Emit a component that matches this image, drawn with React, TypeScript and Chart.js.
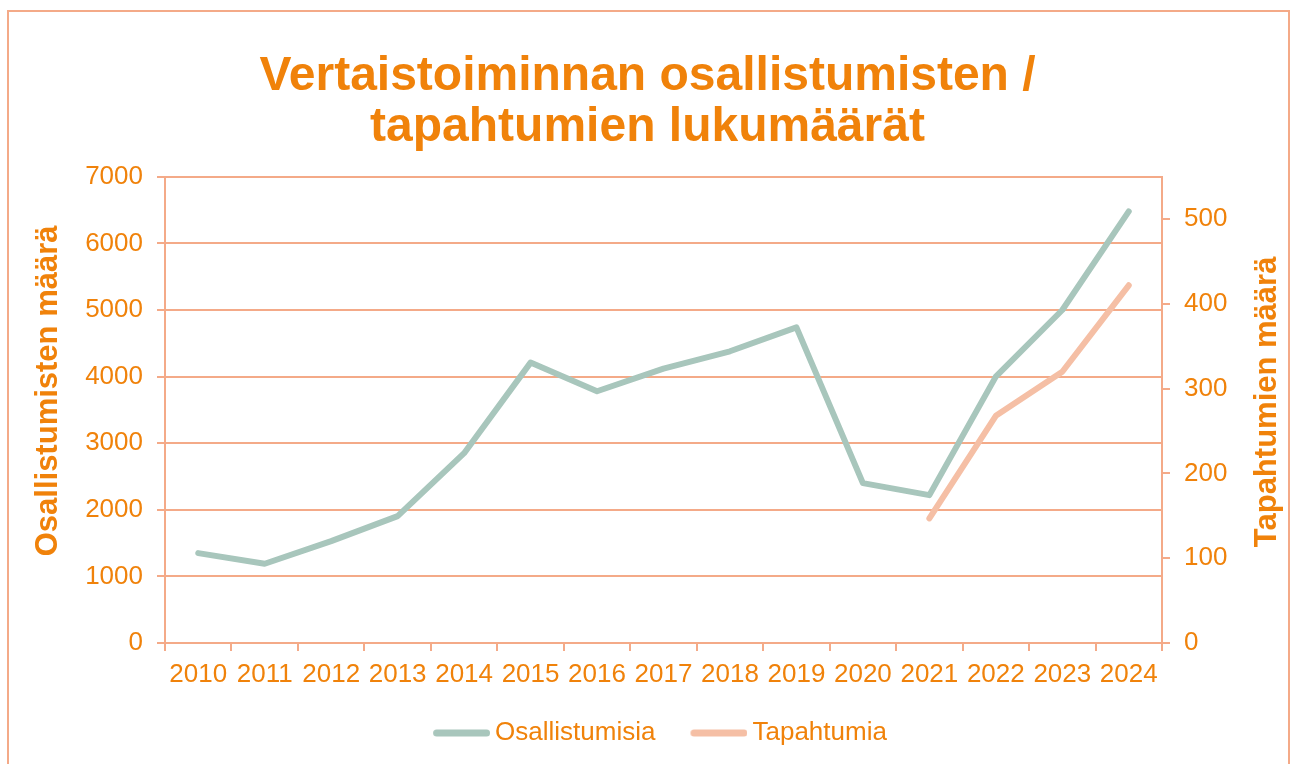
import React, { useEffect, useRef } from "react";
import { Chart, registerables } from "chart.js";

Chart.register(...registerables);

const years = ["2010", "2011", "2012", "2013", "2014", "2015", "2016", "2017", "2018", "2019", "2020", "2021", "2022", "2023", "2024"];
const participations = [1350, 1190, 1530, 1905, 2850, 4210, 3780, 4120, 4380, 4740, 2400, 2220, 4000, 5000, 6480];
const events = [null, null, null, null, null, null, null, null, null, null, null, 147, 268, 320, 422];
const titleLines = ["Vertaistoiminnan osallistumisten /", "tapahtumien lukumäärät"];
const leftAxisTitle = "Osallistumisten määrä";
const rightAxisTitle = "Tapahtumien määrä";

const ORANGE = "#F0820A";
const SALMON = "#F4AA88";
const GREEN = "#A8C6BC";
const PINK = "#F5BFA5";
const FONT = "'Liberation Sans', Arial, sans-serif";

function legendLine(color: string) {
  const c = document.createElement("canvas");
  c.width = 90;
  c.height = 10;
  const g = c.getContext("2d")!;
  g.strokeStyle = color;
  g.lineWidth = 7;
  g.lineCap = "round";
  g.beginPath();
  g.moveTo(33 + 3.5, 5);
  g.lineTo(90 - 3.5, 5);
  g.stroke();
  return c;
}

const axisTitles = {
  id: "axisTitles",
  afterDraw(chart: any) {
    const { ctx, chartArea } = chart;
    const mid = (chartArea.top + chartArea.bottom) / 2;
    ctx.save();
    ctx.fillStyle = ORANGE;
    ctx.font = `bold 31px ${FONT}`;
    ctx.textAlign = "center";
    ctx.textBaseline = "alphabetic";
    ctx.save();
    ctx.translate(chartArea.left - 108, mid - 19);
    ctx.rotate(-Math.PI / 2);
    ctx.fillText(leftAxisTitle, 0, 0);
    ctx.restore();
    ctx.save();
    ctx.translate(chartArea.right + 114, mid - 8);
    ctx.rotate(-Math.PI / 2);
    ctx.fillText(rightAxisTitle, 0, 0);
    ctx.restore();
    ctx.restore();
  },
};

export default function App() {
  const ref = useRef<HTMLCanvasElement>(null);
  useEffect(() => {
    const chart = new Chart(ref.current!, {
      type: "line",
      data: {
        labels: years,
        datasets: [
          {
            label: "Osallistumisia",
            data: participations,
            borderColor: GREEN,
            backgroundColor: GREEN,
            borderWidth: 6,
            borderCapStyle: "round",
            borderJoinStyle: "round",
            pointRadius: 0,
            pointStyle: legendLine(GREEN) as any,
            yAxisID: "y",
          },
          {
            label: "Tapahtumia",
            data: events,
            borderColor: PINK,
            backgroundColor: PINK,
            borderWidth: 6,
            borderCapStyle: "round",
            borderJoinStyle: "round",
            pointRadius: 0,
            pointStyle: legendLine(PINK) as any,
            yAxisID: "y1",
          },
        ],
      },
      options: {
        animation: false,
        responsive: false,
        layout: { padding: { left: 0, right: 0, top: 52, bottom: 8 } },
        plugins: {
          tooltip: { enabled: false },
          title: {
            display: true,
            text: titleLines,
            color: ORANGE,
            font: { family: FONT, size: 48, weight: "bold", lineHeight: 1.05 },
            padding: { top: 0, bottom: 24 },
          },
          legend: {
            position: "bottom",
            labels: {
              color: ORANGE,
              font: { family: FONT, size: 26 },
              usePointStyle: true,
              pointStyleWidth: 74,
              padding: 10,
            },
          },
        },
        scales: {
          x: {
            offset: true,
            grid: { offset: true, drawOnChartArea: false, color: SALMON, lineWidth: 2, tickLength: 8 },
            border: { color: SALMON, width: 2 },
            ticks: { color: ORANGE, font: { family: FONT, size: 26 }, padding: 8, maxRotation: 0, autoSkip: false },
            afterFit: (s: any) => { s.height = 67; },
          },
          y: {
            position: "left",
            min: 0,
            max: 7000,
            ticks: { stepSize: 1000, color: ORANGE, font: { family: FONT, size: 26 }, padding: 14, callback: (v: any) => String(v) },
            grid: { color: SALMON, lineWidth: 2, tickLength: 8 },
            border: { color: SALMON, width: 2 },
            afterFit: (s: any) => { s.width = 165; },
          },
          y1: {
            position: "right",
            min: 0,
            max: 550,
            ticks: { stepSize: 100, includeBounds: false, color: ORANGE, font: { family: FONT, size: 26 }, padding: 14, callback: (v: any) => String(v) },
            grid: { drawOnChartArea: false, color: SALMON, lineWidth: 2, tickLength: 8 },
            border: { color: SALMON, width: 2 },
            afterFit: (s: any) => { s.width = 133; },
          },
        },
      },
      plugins: [axisTitles],
    });
    return () => chart.destroy();
  }, []);
  return (
    <div style={{ position: "fixed", left: 0, top: 0, width: 1295, height: 764, background: "#fff" }}>
      <div style={{ position: "absolute", left: 7, top: 10, width: 1283, height: 800, border: `2px solid ${SALMON}`, boxSizing: "border-box" }} />
      <canvas ref={ref} width={1295} height={764} style={{ position: "absolute", left: 0, top: 0 }} />
    </div>
  );
}
